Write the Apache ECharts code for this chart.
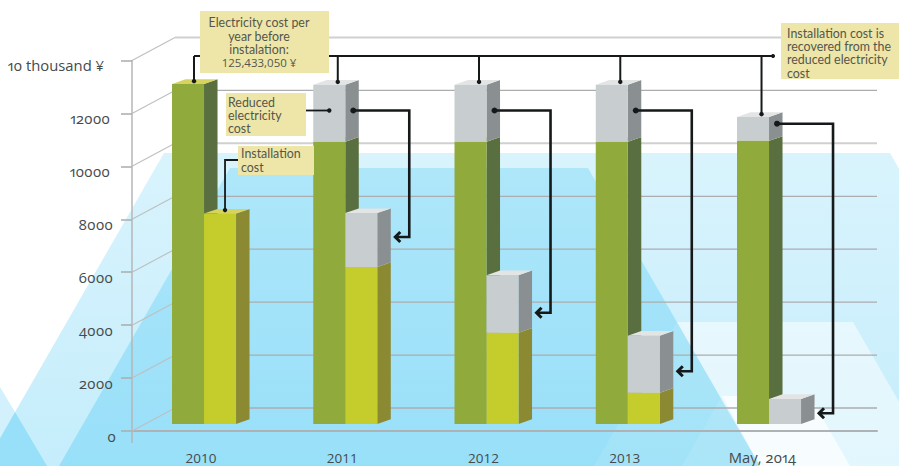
<!DOCTYPE html>
<html>
<head>
<meta charset="utf-8">
<style>
html,body{margin:0;padding:0;background:#fff}
#c{width:899px;height:466px}
text{font-feature-settings:"onum" 1,"pnum" 1;font-variant-numeric:oldstyle-nums}
</style>
<script src="https://cdn.jsdelivr.net/npm/echarts@6/dist/echarts.min.js"></script>
</head>
<body>
<div id="c"></div>
<script>
// ---- data (unit: 10 thousand yen) ----
const categories = ['2010', '2011', '2012', '2013', 'May, 2014'];
const electricityCost = [12850, 10670, 10670, 10670, 10700];
const reducedCost = [0, 2150, 2150, 2150, 900];
const installationCost = [7950, 5930, 3450, 1180, 0];
const recoveredCost = [0, 2040, 2170, 2155, 945];
const yTicks = [0, 2000, 4000, 6000, 8000, 10000, 12000, 14000];
const arrowFromValue = [null, 11846, 11846, 11846, 11347];
const arrowToValue = [null, 7066, 4205, 1991, 404];
const TEXT_TOP = ['Electricity cost per', 'year before', 'instalation:', '{n|125,433,050 ¥}'];
const TEXT_REDUCED = ['Reduced', 'electricity', 'cost'];
const TEXT_INSTALL = ['Installation', 'cost'];
const TEXT_RECOVER = ['Installation cost is', 'recovered from the', 'reduced electricity', 'cost'];

// ---- pseudo 3D geometry ----
const WALL = [43, -23];      // depth of the floor
const BASE_LIFT = -7;        // bars stand inside the floor
const SIDE = [13.5, -4.7];   // depth of one bar
const SHIFT = 3;             // bars against axis labels
const LEADER_VALUE = 13905;  // height of the top leader line

const GREEN = {front:'#90aa3b', side:'#5a6f3f', top:'#d6d45e'};
const GRAY = {front:'#c8cdd0', side:'#8a9092', top:'#e3e4e4'};
const YELLOW = {front:'#c4cd2c', side:'#8b8a33', top:'#d6d45e'};
const INK = '#15191a';
const LABEL = '#454a4c';

const chart = echarts.init(document.getElementById('c'), null, {renderer: 'svg'});

function pt(api, i, v) {
  const p = api.coord([i, v]);
  return [p[0] + SHIFT, p[1] + BASE_LIFT];
}
function cuboidSeries(name, lows, highs, offset, pal) {
  return {
    name, type: 'custom', xAxisIndex: 1, yAxisIndex: 1, z: 5, silent: true,
    data: categories.map((c, i) => [i, lows[i], highs[i]]),
    encode: {x: 0, y: [1, 2]},
    renderItem(params, api) {
      const i = api.value(0), lo = api.value(1), hi = api.value(2);
      if (hi <= lo) return null;
      const w = api.size([1, 0])[0] * 0.2266;
      const a = pt(api, i, lo), b = pt(api, i, hi);
      const x0 = a[0] + offset * w, x1 = x0 + w, dx = SIDE[0], dy = SIDE[1];
      const poly = (pts, fill) => ({type: 'polygon', shape: {points: pts}, style: {fill}});
      return {type: 'group', children: [
        poly([[x1, a[1]], [x1 + dx, a[1] + dy], [x1 + dx, b[1] + dy], [x1, b[1]]], pal.side),
        poly([[x0, b[1]], [x1, b[1]], [x1 + dx, b[1] + dy], [x0 + dx, b[1] + dy]], pal.top),
        poly([[x0, a[1]], [x1, a[1]], [x1, b[1]], [x0, b[1]]], pal.front)
      ]};
    }
  };
}
const line = (pts, w) => ({type: 'polyline', shape: {points: pts}, style: {stroke: INK, lineWidth: w, fill: null, lineJoin: 'miter'}});
const dot = (x, y, r) => ({type: 'circle', shape: {cx: x, cy: y, r}, style: {fill: INK}});

const upper = electricityCost.map((v, i) => v + reducedCost[i]);
const lower = installationCost.map((v, i) => v + recoveredCost[i]);
const zeros = categories.map(() => 0);

const yRich = (right) => ({fontSize: 14.8, fontFamily: '"Open Sans"', color: LABEL, padding: [9, right, 0, 0]});

const option = {
  animation: false,
  backgroundColor: '#fff',
  textStyle: {fontFamily: '"Open Sans"'},
  grid: [
    {left: 132, width: 745, top: 60.5, height: 370.5},
    {left: 130.4, width: 706.25, top: 60.5, height: 370.5}
  ],
  xAxis: [
    {gridIndex: 0, type: 'value', min: 0, max: 745, show: true, splitLine: {show: false},
      axisTick: {show: false}, axisLabel: {show: false},
      axisLine: {show: true, lineStyle: {color: '#aeb2b4', width: 2}}},
    {gridIndex: 1, type: 'category', data: categories,
      axisLine: {show: false}, axisTick: {show: false},
      axisLabel: {margin: 20, color: LABEL, fontSize: 13.5, fontFamily: '"Open Sans"',
        formatter: v => v === 'May, 2014' ? '{m|' + v + '}' : v,
        rich: {m: {fontSize: 14.8, fontFamily: '"Open Sans"', color: LABEL, lineHeight: 12, padding: [0, 7, 0, 0]}}}}
  ],
  yAxis: [
    {gridIndex: 0, type: 'value', min: 0, max: 14000, interval: 2000, splitLine: {show: false},
      axisLine: {show: true, lineStyle: {color: '#b4b6b7', width: 1.5}},
      axisTick: {show: true, length: 11, lineStyle: {color: '#aaacad', width: 1.5}},
      axisLabel: {margin: 16, color: LABEL, fontSize: 14.8, fontFamily: '"Open Sans"',
        formatter: v => {
          if (v === 14000) return '{t|10 thousand ¥}';
          if (v >= 10000) return '{w|' + v + '}';
          if (v === 0) return '{z|0}';
          return '{n|' + v + '}';
        },
        rich: {t: yRich(12), w: yRich(6), n: yRich(3), z: yRich(0)}}},
    {gridIndex: 1, type: 'value', min: 0, max: 14000, interval: 2000, show: false}
  ],
  graphic: {elements: []},
  series: [
    // floor and back wall
    {
      type: 'custom', xAxisIndex: 0, yAxisIndex: 0, z: 1, silent: true,
      data: yTicks.map(v => [0, v]),
      encode: {x: 0, y: 1},
      renderItem(params, api) {
        const v = api.value(1), p = api.coord([0, v]);
        const strong = v === 14000 || v === 10000;
        const s = {stroke: strong ? '#cfd0d0' : '#abadae', lineWidth: strong ? 2 : 1.3, fill: null};
        const q = [p[0] + WALL[0], p[1] + WALL[1]];
        const end = api.coord([745, v])[0];
        const kids = [
          {type: 'polyline', shape: {points: [p, q]}, style: {stroke: '#bdbfc0', lineWidth: 1.1, fill: null}},
          {type: 'polyline', shape: {points: [q, [end, q[1]]]}, style: s}
        ];
        if (v === 0) kids.push({type: 'polyline', shape: {points: [p, [p[0], p[1] + 12]]}, style: {stroke: '#b4b6b7', lineWidth: 1.5, fill: null}});
        return {type: 'group', children: kids};
      }
    },
    cuboidSeries('Electricity cost', zeros, electricityCost, -1, GREEN),
    cuboidSeries('Reduced electricity cost', electricityCost, upper, -1, GRAY),
    cuboidSeries('Installation cost', zeros, installationCost, 0, YELLOW),
    cuboidSeries('Recovered cost', installationCost, lower, 0, GRAY),
    // top leader lines
    {
      type: 'custom', xAxisIndex: 1, yAxisIndex: 1, z: 6, silent: true,
      data: categories.map((c, i) => [i, upper[i]]),
      encode: {x: 0, y: 1},
      renderItem(params, api) {
        const i = api.value(0), top = pt(api, i, api.value(1));
        const lvl = pt(api, i, LEADER_VALUE)[1];
        const x = top[0] + (i === 0 ? -10 : -7.5), y = top[1] - 2.8;
        const kids = [line([[x, y], [x, lvl]], 2), dot(x, y, 2.2)];
        if (i === 0) {
          const end = pt(api, 4, 0)[0] + 4;
          kids.push(line([[x, lvl], [end, lvl]], 2), dot(end, lvl, 2));
        }
        return {type: 'group', children: kids};
      }
    },
    // arrows: from reduced electricity cost down to the installation cost recovered
    {
      type: 'custom', xAxisIndex: 1, yAxisIndex: 1, z: 6, silent: true,
      data: categories.map((c, i) => [i, arrowFromValue[i], arrowToValue[i]]).filter(d => d[1] !== null),
      encode: {x: 0, y: [1, 2]},
      renderItem(params, api) {
        const i = api.value(0);
        const a = pt(api, i, api.value(1)), b = pt(api, i, api.value(2));
        const sx = a[0] + 8, cx = a[0] + 64, tx = a[0] + 48.5;
        return {type: 'group', children: [
          dot(sx, a[1], 3),
          line([[sx, a[1]], [cx, a[1]], [cx, b[1]], [tx + 1, b[1]]], 2.6),
          line([[tx + 6.5, b[1] - 5], [tx + 1.5, b[1]], [tx + 6.5, b[1] + 5]], 3)
        ]};
      }
    },
    // short leaders of the two small callouts
    {
      type: 'custom', xAxisIndex: 1, yAxisIndex: 1, z: 6, silent: true,
      data: [[0, installationCost[0]], [1, electricityCost[1] + reducedCost[1] * 0.55]],
      encode: {x: 0, y: 1},
      renderItem(params, api) {
        const i = api.value(0), p = pt(api, i, api.value(1));
        if (i === 0) {
          const x = p[0] + 21, y = p[1] - 3.5;
          return {type: 'group', children: [dot(x, y, 2.2), line([[x, y], [x, 160], [238, 160]], 1.8)]};
        }
        const x = p[0] - 16, y = 110.5;
        return {type: 'group', children: [dot(x, y, 2.2), line([[x, y], [306, y]], 1.8)]};
      }
    }
  ]
};

// ---- decorative background shapes ----
const BLUE = a => 'rgba(143,221,248,' + a + ')';
const grad = (a, b) => ({type: 'linear', x: 0, y: 0, x2: 0, y2: 1, colorStops: [{offset: 0, color: a}, {offset: 1, color: b}]});
const shape = (points, fill) => ({type: 'polygon', z: -5, silent: true, shape: {points}, style: {fill}});
const shapes = [
  shape([[164, 153], [890, 153], [1070, 466], [-16, 466]], grad(BLUE(0.34), BLUE(0.52))),
  shape([[230, 168], [588, 168], [760, 466], [59, 466]], grad(BLUE(0.56), BLUE(0.83))),
  shape([[0, 387], [15, 412], [0, 438]], BLUE(0.4)),
  shape([[15, 412], [47, 466], [-16, 466]], BLUE(0.85)),
  shape([[677, 322], [853, 322], [936, 466], [760, 466]], 'rgba(255,255,255,0.5)'),
  shape([[677, 322], [760, 466], [594, 466]], 'rgba(255,255,255,0.1)'),
  shape([[722, 396], [810, 396], [850, 466], [760, 466]], 'rgba(255,255,255,0.72)'),
  shape([[722, 396], [760, 466], [682, 466]], 'rgba(255,255,255,0.1)')
];

// ---- callouts ----
function callout(x, y, w, h, lines, tx, ty, align) {
  return [
    {type: 'rect', z: 20, silent: true, shape: {x, y, width: w, height: h}, style: {fill: '#ede6a8'}},
    {type: 'text', z: 21, silent: true, x: tx, y: ty, style: {
      text: lines.join('\n'), fill: '#55564c', font: '12.4px Lato', lineHeight: 13.35,
      align: align || 'left', verticalAlign: 'top',
      rich: {n: {font: '11.5px "Open Sans"', fill: '#55564c', lineHeight: 13.35}}}}
  ];
}
option.graphic.elements = shapes.concat(
  callout(200, 11, 129, 62, TEXT_TOP, 259, 16, 'center'),
  callout(226, 93, 80, 43, TEXT_REDUCED, 228, 95.5),
  callout(238, 146, 76, 29, TEXT_INSTALL, 241, 147),
  callout(781, 23, 118, 56, TEXT_RECOVER, 787, 26.5)
);
chart.setOption(option);
</script>
</body>
</html>
